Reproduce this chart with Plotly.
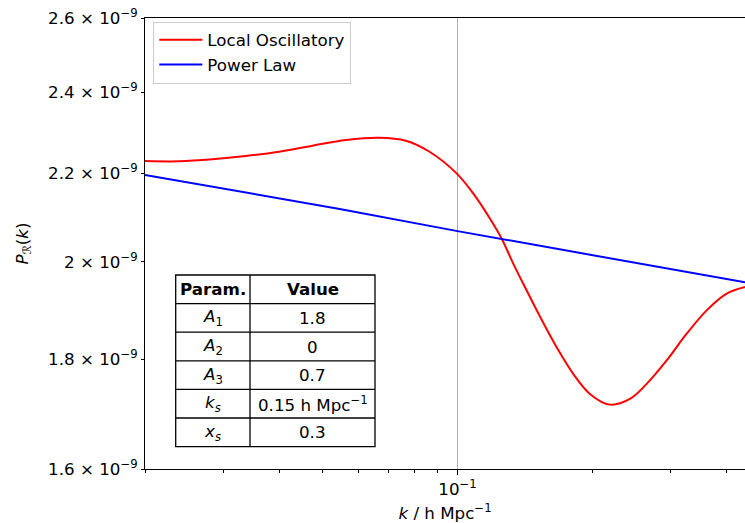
import math
import plotly.graph_objects as go

# ---- data ----
k_osc = [0.0200, 0.02383, 0.02830, 0.03360, 0.03990, 0.04738, 0.05625, 0.06677,
         0.07661, 0.08639, 0.0995, 0.10837, 0.11810, 0.12545, 0.13318,
         0.14269, 0.15279, 0.16654, 0.18139, 0.19765, 0.21921, 0.24291, 0.26477,
         0.29350, 0.32532, 0.36060, 0.39975, 0.43934]
p_osc = [2.2290, 2.2283, 2.2331, 2.2410, 2.2515, 2.2660, 2.2800, 2.2857,
         2.2783, 2.2519, 2.1996, 2.1526, 2.0953, 2.0507, 1.9960,
         1.9394, 1.8857, 1.8242, 1.7726, 1.7347, 1.7148, 1.7254, 1.7536,
         1.7983, 1.8508, 1.8979, 1.9325, 1.9463]  # units of 1e-9

k_pl = [0.0200, 0.0545, 0.1000, 0.4393]
p_pl = [2.196, 2.117, 2.067, 1.956]  # units of 1e-9

unit = 1e-9

y_ticks = [1.6, 1.8, 2.0, 2.2, 2.4, 2.6]
y_ticktext = ["1.6 × 10<sup>−9</sup>", "1.8 × 10<sup>−9</sup>", "2 × 10<sup>−9</sup>",
              "2.2 × 10<sup>−9</sup>", "2.4 × 10<sup>−9</sup>", "2.6 × 10<sup>−9</sup>"]
x_major = [0.1]
x_major_text = ["10<sup>−1</sup>"]
x_minor = [0.02, 0.03, 0.04, 0.05, 0.06, 0.07, 0.08, 0.09, 0.2, 0.3, 0.4]

table_header = ["<b>Param.</b>", "<b>Value</b>"]
table_params = ["<i>A</i><sub>1</sub>", "<i>A</i><sub>2</sub>", "<i>A</i><sub>3</sub>",
                "<i>k</i><sub><i>s</i></sub>", "<i>x</i><sub><i>s</i></sub>"]
table_values = ["1.8", "0", "0.7", "0.15 h Mpc<sup>−1</sup>", "0.3"]

FONT = "DejaVu Sans"
FS = 16.7

# ---- layout geometry (pixels) ----
W, H = 745, 523
L, R, T, B = 145, 0, 18, 54
PW, PH = W - L - R, H - T - B


def px(x):
    return (x - L) / PW


def py(y):
    return (H - B - y) / PH


fig = go.Figure()
fig.add_trace(go.Scatter(
    x=k_osc, y=[v * unit for v in p_osc], mode="lines", name="Local Oscillatory",
    line=dict(color="#ff0000", width=2, shape="spline", smoothing=1.0),
    legendgroup="a"))
fig.add_trace(go.Scatter(
    x=k_pl, y=[v * unit for v in p_pl], mode="lines", name="Power Law",
    line=dict(color="#0000ff", width=2), legendgroup="b"))

# ---- parameter table drawn with shapes + annotations ----
col_edges = [175.7, 250.0, 375.0]
n_rows = 1 + len(table_params)
top, bottom = 275.0, 446.6
rh = (bottom - top) / n_rows
row_edges = [top + i * rh for i in range(n_rows + 1)]

shapes = [dict(type="rect", xref="paper", yref="paper",
               x0=px(col_edges[0]), x1=px(col_edges[-1]), y0=py(bottom), y1=py(top),
               fillcolor="white", line=dict(color="black", width=1.3), layer="above")]
for ry in row_edges[1:-1]:
    shapes.append(dict(type="line", xref="paper", yref="paper",
                       x0=px(col_edges[0]), x1=px(col_edges[-1]), y0=py(ry), y1=py(ry),
                       line=dict(color="black", width=1.3), layer="above"))
shapes.append(dict(type="line", xref="paper", yref="paper",
                   x0=px(col_edges[1]), x1=px(col_edges[1]), y0=py(bottom), y1=py(top),
                   line=dict(color="black", width=1.3), layer="above"))

annotations = []
rows = [table_header] + [[a, b] for a, b in zip(table_params, table_values)]
for i, row in enumerate(rows):
    cy = (row_edges[i] + row_edges[i + 1]) / 2
    for j, txt in enumerate(row):
        cx = (col_edges[j] + col_edges[j + 1]) / 2
        annotations.append(dict(xref="paper", yref="paper", x=px(cx), y=py(cy),
                                text=txt, showarrow=False, xanchor="center",
                                yanchor="middle",
                                font=dict(family=FONT, size=FS, color="black")))

fig.update_layout(
    width=W, height=H,
    margin=dict(l=L, r=R, t=T, b=B, autoexpand=False),
    paper_bgcolor="white", plot_bgcolor="white",
    font=dict(family=FONT, size=FS, color="black"),
    showlegend=True,
    legend=dict(x=px(153.3), y=py(21.5), xanchor="left", yanchor="top",
                bgcolor="rgba(255,255,255,0.8)", bordercolor="#cccccc", borderwidth=1,
                font=dict(family=FONT, size=FS), tracegroupgap=0, itemwidth=43),
    shapes=shapes,
    annotations=annotations,
    xaxis=dict(type="log", range=[math.log10(0.02), math.log10(0.4393)],
               tickmode="array", tickvals=x_major, ticktext=x_major_text,
               ticks="outside", ticklen=4.5, tickwidth=1, tickcolor="black",
               showline=True, linecolor="black", linewidth=1, mirror=True,
               showgrid=True, gridcolor="#b0b0b0", gridwidth=1.1, zeroline=False,
               minor=dict(tickmode="array", tickvals=x_minor, ticks="outside",
                          ticklen=2.5, tickwidth=0.8, tickcolor="black", showgrid=False),
               title=dict(text="<i>k</i> / h Mpc<sup>−1</sup>", standoff=9,
                          font=dict(family=FONT, size=FS)),
               tickfont=dict(family=FONT, size=FS)),
    yaxis=dict(type="log", range=[math.log10(1.6e-9), math.log10(2.6e-9)],
               tickmode="array", tickvals=[v * unit for v in y_ticks], ticktext=y_ticktext,
               ticks="outside", ticklen=3, tickwidth=1, tickcolor="black",
               showline=True, linecolor="black", linewidth=1, mirror=True,
               showgrid=False, zeroline=False,
               title=dict(text="<i>P</i><sub>ℛ</sub>(<i>k</i>)", standoff=15,
                          font=dict(family=FONT, size=FS)),
               tickfont=dict(family=FONT, size=FS)),
)

fig.write_html("out.html", config={"displayModeBar": False},
               post_script="document.body.style.margin='0';")
